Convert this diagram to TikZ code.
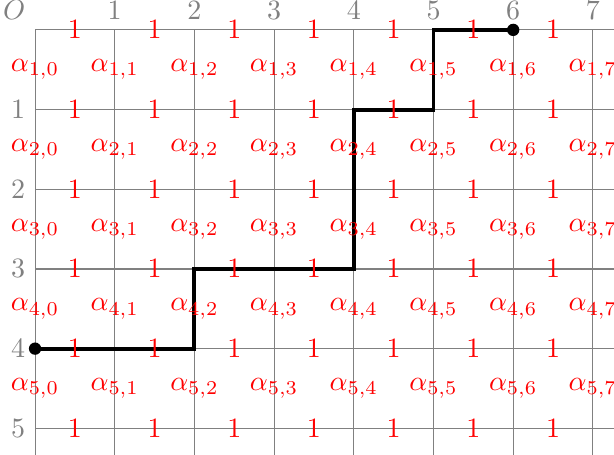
\documentclass[tikz,border=0pt]{standalone}
\begin{document}
\begin{tikzpicture}[x=1cm, y=-1cm]
    % --- Configuration ---
    \def\numCols{7}     % number of columns
    \def\numRows{5}     % number of rows
    \def\gridR{7.265}   % right end of the grid
    \def\gridB{5.33}    % bottom end of the grid

    \useasboundingbox (-0.44, -0.375) rectangle (\gridR, \gridB);

    % --- Grid Lines ---
    % Horizontal lines
    \foreach \i in {0,...,\numRows} {
        \draw[gray, thin] (0, \i) -- (\gridR, \i);
    }
    % Vertical lines
    \foreach \j in {0,...,\numCols} {
        \draw[gray, thin] (\j, 0) -- (\j, \gridB);
    }

    % --- Axis Labels ---
    \node[gray, above left] (orig) at (0, 0) {$O$};
    \foreach \j in {1,...,\numCols} {
        \node[gray, above] (top\j) at (\j, 0) {$\j$};
    }
    \foreach \i in {1,...,\numRows} {
        \node[gray, left] (side\i) at (0, \i) {$\i$};
    }

    % --- Path ---
    \coordinate (start) at (0, 4);
    \coordinate (stop) at (6, 0);
    \draw[line width=1.4pt] (start) -- (2, 4) -- (2, 3) -- (4, 3) -- (4, 1) -- (5, 1) -- (5, 0) -- (stop);
    \fill (start) circle (2.2pt);
    \fill (stop) circle (2.2pt);

    % --- Weights ---
    % 1 on every horizontal edge
    \foreach \i in {0,...,\numRows} {
        \foreach \j in {0,...,6} {
            \node[red] (one-\i-\j) at (\j + 0.5, \i) {$1$};
        }
    }
    % alpha on every vertical edge
    \foreach \i in {1,...,\numRows} {
        \foreach \j in {0,...,\numCols} {
            \node[red] (alpha-\i-\j) at (\j, \i - 0.5) {$\alpha_{\i,\j}$};
        }
    }
\end{tikzpicture}
\end{document}
